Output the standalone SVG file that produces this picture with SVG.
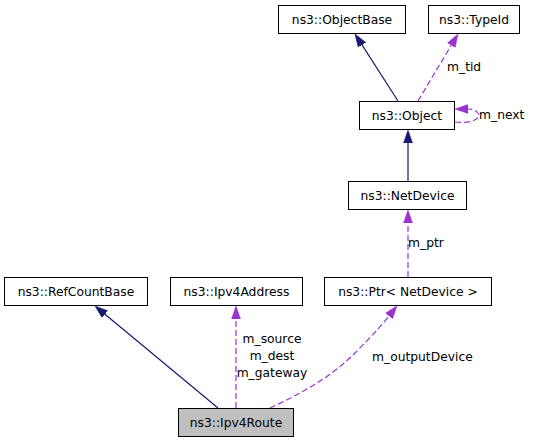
<svg xmlns="http://www.w3.org/2000/svg" width="533" height="443" viewBox="0 0 533 443">
<style>
.node rect{fill:#ffffff;stroke:#000000;stroke-width:1}
.node.cur rect{fill:#bfbfbf}
text{font-family:"DejaVu Sans","Liberation Sans",sans-serif;font-size:12.3px;fill:#000000}
.node text{text-anchor:middle}
.inh{fill:none;stroke:#191970;stroke-width:1.2}
.use{fill:none;stroke:#9a32cd;stroke-width:1.2;stroke-dasharray:6,3}
.lbl{text-anchor:start}
.lblc{text-anchor:middle}
</style>
<defs>
<marker id="aInh" markerUnits="userSpaceOnUse" markerWidth="14" markerHeight="10" refX="0" refY="4.5" orient="auto" viewBox="0 0 14 9">
<path d="M0,0 L13,4.5 L0,9 z" fill="#191970" stroke="#191970" stroke-width="0.5"/>
</marker>
<marker id="aUse" markerUnits="userSpaceOnUse" markerWidth="14" markerHeight="10" refX="0" refY="4.5" orient="auto" viewBox="0 0 14 9">
<path d="M0,0 L13,4.5 L0,9 z" fill="#9a32cd" stroke="#9a32cd" stroke-width="0.5"/>
</marker>
</defs>
<g id="connectors">
<path class="inh" d="M398,101 L362,44.9" marker-end="url(#aInh)"/>
<path class="use" d="M418,101 L451.3,45.2" marker-end="url(#aUse)"/>
<path class="use" d="M455,122 C472,124 482,118 478,113 C476,110 472,109 468,109" marker-end="url(#aUse)"/>
<path class="inh" d="M408,182 L408,143" marker-end="url(#aInh)"/>
<path class="use" d="M408,277 L408,223" marker-end="url(#aUse)"/>
<path class="inh" d="M218,408 L105,314.3" marker-end="url(#aInh)"/>
<path class="use" d="M236,408 L236,319" marker-end="url(#aUse)"/>
<path class="use" d="M270,408 C300,394 330,378 355,353 C370,338 382,325 389,316" marker-end="url(#aUse)"/>
<text class="lbl" x="447" y="71">m_tid</text>
<text class="lbl" x="479" y="119">m_next</text>
<text class="lbl" x="408" y="247">m_ptr</text>
<text class="lblc" x="272" y="343">m_source</text>
<text class="lblc" x="272" y="360">m_dest</text>
<text class="lblc" x="272" y="377">m_gateway</text>
<text class="lbl" x="372" y="361">m_outputDevice</text>
</g>
<g id="node-ObjectBase" class="node"><rect x="278.5" y="5.5" width="127" height="28"/><text x="342" y="23.8">ns3::ObjectBase</text></g>
<g id="node-TypeId" class="node"><rect x="428.5" y="5.5" width="91" height="28"/><text x="474" y="23.8">ns3::TypeId</text></g>
<g id="node-Object" class="node"><rect x="359.5" y="101.5" width="95" height="28"/><text x="407" y="119.8">ns3::Object</text></g>
<g id="node-NetDevice" class="node"><rect x="348.5" y="181.5" width="118" height="28"/><text x="407.5" y="199.8">ns3::NetDevice</text></g>
<g id="node-RefCountBase" class="node"><rect x="4.5" y="277.5" width="143" height="28"/><text x="76" y="295.8">ns3::RefCountBase</text></g>
<g id="node-Ipv4Address" class="node"><rect x="170.5" y="277.5" width="132" height="28"/><text x="236.5" y="295.8">ns3::Ipv4Address</text></g>
<g id="node-PtrNetDevice" class="node"><rect x="324.5" y="277.5" width="167" height="28"/><text x="408" y="295.8">ns3::Ptr&lt; NetDevice &gt;</text></g>
<g id="node-Ipv4Route" class="node cur"><rect x="178.5" y="408.5" width="115" height="28"/><text x="236" y="426.8">ns3::Ipv4Route</text></g>
</svg>
